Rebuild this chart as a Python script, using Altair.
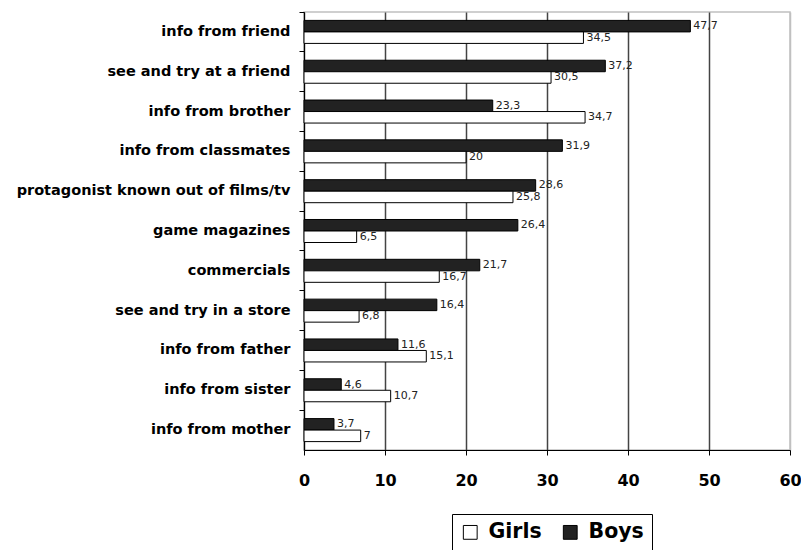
import altair as alt
import pandas as pd

# Sources of information about games (percent of respondents)
categories = [
    "info from friend",
    "see and try at a friend",
    "info from brother",
    "info from classmates",
    "protagonist known out of films/tv",
    "game magazines",
    "commercials",
    "see and try in a store",
    "info from father",
    "info from sister",
    "info from mother",
]
boys = [47.7, 37.2, 23.3, 31.9, 28.6, 26.4, 21.7, 16.4, 11.6, 4.6, 3.7]
girls = [34.5, 30.5, 34.7, 20, 25.8, 6.5, 16.7, 6.8, 15.1, 10.7, 7]
x_ticks = [0, 10, 20, 30, 40, 50, 60]


def fmt(v):
    return f"{v:g}".replace(".", ",")


rows = []
for cat, b, g in zip(categories, boys, girls):
    rows.append({"cat": cat, "group": "Boys", "value": b, "label": fmt(b)})
    rows.append({"cat": cat, "group": "Girls", "value": g, "label": fmt(g)})
df = pd.DataFrame(rows)

W, H = 486, 438

y_enc = alt.Y(
    "cat:N",
    sort=categories,
    scale=alt.Scale(paddingInner=0, paddingOuter=0),
    axis=alt.Axis(
        title=None,
        bandPosition=0,
        labelFont="DejaVu Sans",
        labelFontWeight="bold",
        labelFontSize=14.5,
        labelColor="black",
        labelPadding=9,
        tickSize=5,
        tickColor="black",
        domainColor="black",
        grid=False,
        labelLimit=400,
    ),
)
yoff_enc = alt.YOffset(
    "group:N",
    sort=["Boys", "Girls"],
    scale=alt.Scale(domain=["Boys", "Girls"], paddingInner=0, paddingOuter=0.73),
)
x_enc = alt.X(
    "value:Q",
    scale=alt.Scale(domain=[0, 60], nice=False),
    axis=alt.Axis(
        title=None,
        values=x_ticks,
        labelFlush=False,
        labelFont="DejaVu Sans",
        labelFontWeight="bold",
        labelFontSize=16,
        labelColor="black",
        labelPadding=17,
        tickSize=5,
        tickColor="black",
        domainColor="black",
        grid=True,
        gridColor={"condition": {"test": "datum.value === 60", "value": "#c0c0c0"}, "value": "#444444"},
        gridWidth=1.5,
    ),
)

bars = alt.Chart(df).mark_bar(stroke="black", strokeWidth=1).encode(
    y=y_enc,
    yOffset=yoff_enc,
    x=x_enc,
    color=alt.Color(
        "group:N",
        scale=alt.Scale(domain=["Girls", "Boys"], range=["#ffffff", "#222222"]),
        legend=alt.Legend(
            title=None,
            orient="none",
            direction="horizontal",
            legendX=148,
            legendY=502,
            symbolType="square",
            symbolSize=190,
            symbolStrokeColor="black",
            symbolStrokeWidth=1,
            labelFont="DejaVu Sans",
            labelFontWeight="bold",
            labelFontSize=20.5,
            labelColor="black",
            labelOffset=8,
            columnPadding=18,
            padding=8,
            strokeColor="black",
            fillColor="white",
        ),
    ),
)

labels = alt.Chart(df).mark_text(
    align="left", baseline="middle", dx=3, font="DejaVu Sans", fontSize=11, color="#222"
).encode(
    y=alt.Y("cat:N", sort=categories),
    yOffset=alt.YOffset("group:N", sort=["Boys", "Girls"]),
    x=alt.X("value:Q"),
    text="label:N",
)

chart = (
    alt.layer(bars, labels)
    .properties(
        width=W,
        height=H,
        autosize=alt.AutoSizeParams(type="none"),
        padding={"left": 304, "top": 12, "right": 11, "bottom": 100},
        background="white",
    )
    .configure_view(stroke="#c0c0c0", strokeWidth=1.5)
)

chart.save("out.html", embed_options={"renderer": "svg", "actions": False})
